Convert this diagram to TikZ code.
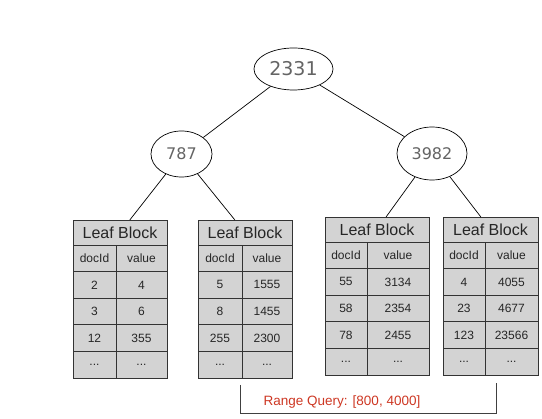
\documentclass[tikz,border=0pt]{standalone}
\usepackage{fontspec}
\setmainfont{Liberation Sans}
\newfontfamily\keyfont{DejaVu Sans}
\usetikzlibrary{shapes.geometric}
\definecolor{leafgray}{RGB}{211,211,211}
\definecolor{keygray}{RGB}{100,100,100}
\definecolor{queryred}{RGB}{205,55,35}
\newcommand\moredots{...}
\tikzset{
  key/.style={draw, ellipse, inner sep=0pt, text=keygray, font=\keyfont\fontsize{16}{18}\selectfont},
  cell/.style={draw=black!80, fill=leafgray, anchor=north west, inner sep=0pt, outer sep=0pt,
    minimum height=26.6pt, text=black!85, font=\fontsize{12}{14}\selectfont},
  head/.style={cell, minimum height=25pt, font=\fontsize{16}{18}\selectfont},
}
\begin{document}
\begin{tikzpicture}
                        [x=1pt,y=-1pt,line width=0.7pt]
                        \useasboundingbox (0,0) rectangle (542,419);
                        \node[key, minimum width=79pt, minimum height=42pt, font=\keyfont\fontsize{19}{21}\selectfont] (k2331) at (293.5,69) {2331};
                        \node[key, minimum width=61pt, minimum height=46pt] (k787) at (181.5,154) {787};
                        \node[key, minimum width=70pt, minimum height=53pt] (k3982) at (432,153.5) {3982};
                        % leaf blocks
                        \node[head, minimum width=94pt] (b1) at (73,220) {Leaf Block};
                        \foreach \i/\d/\v in {0/docId/value,1/2/4,2/3/6,3/12/355,4/\moredots/\moredots} {
                            \node[cell, minimum width=43pt] (b1d\i) at (73,{245+26.6*\i}) {\d};
                            \node[cell, minimum width=51pt] (b1v\i) at (116,{245+26.6*\i}) {\v};
                        }
                        \node[head, minimum width=94pt] (b2) at (198,220) {Leaf Block};
                        \foreach \i/\d/\v in {0/docId/value,1/5/1555,2/8/1455,3/255/2300,4/\moredots/\moredots} {
                            \node[cell, minimum width=44pt] (b2d\i) at (198,{245+26.6*\i}) {\d};
                            \node[cell, minimum width=50pt] (b2v\i) at (242,{245+26.6*\i}) {\v};
                        }
                        \node[head, minimum width=104pt] (b3) at (325,217) {Leaf Block};
                        \foreach \i/\d/\v in {0/docId/value,1/55/3134,2/58/2354,3/78/2455,4/\moredots/\moredots} {
                            \node[cell, minimum width=42pt] (b3d\i) at (325,{242+26.6*\i}) {\d};
                            \node[cell, minimum width=62pt] (b3v\i) at (367,{242+26.6*\i}) {\v};
                        }
                        \node[head, minimum width=95pt] (b4) at (443,217) {Leaf Block};
                        \foreach \i/\d/\v in {0/docId/value,1/4/4055,2/23/4677,3/123/23566,4/\moredots/\moredots} {
                            \node[cell, minimum width=42pt] (b4d\i) at (443,{242+26.6*\i}) {\d};
                            \node[cell, minimum width=53pt] (b4v\i) at (485,{242+26.6*\i}) {\v};
                        }
                        \foreach \from/\to in {k2331/k787,k2331/k3982,k787/b1,k787/b2,k3982/b3,k3982/b4}
                        \draw (\from) -- (\to);
                        % range query
                        \coordinate (qa) at (240,385);
                        \coordinate (qb) at (496,383);
                        \draw[black!75] (qa) -- ++(0,28) -| (qb);
                        \node[text=queryred, font=\fontsize{13.5}{15}\selectfont] (query) at (342,402) {Range Query: [800, 4000]};
                    \end{tikzpicture}
\end{document}
